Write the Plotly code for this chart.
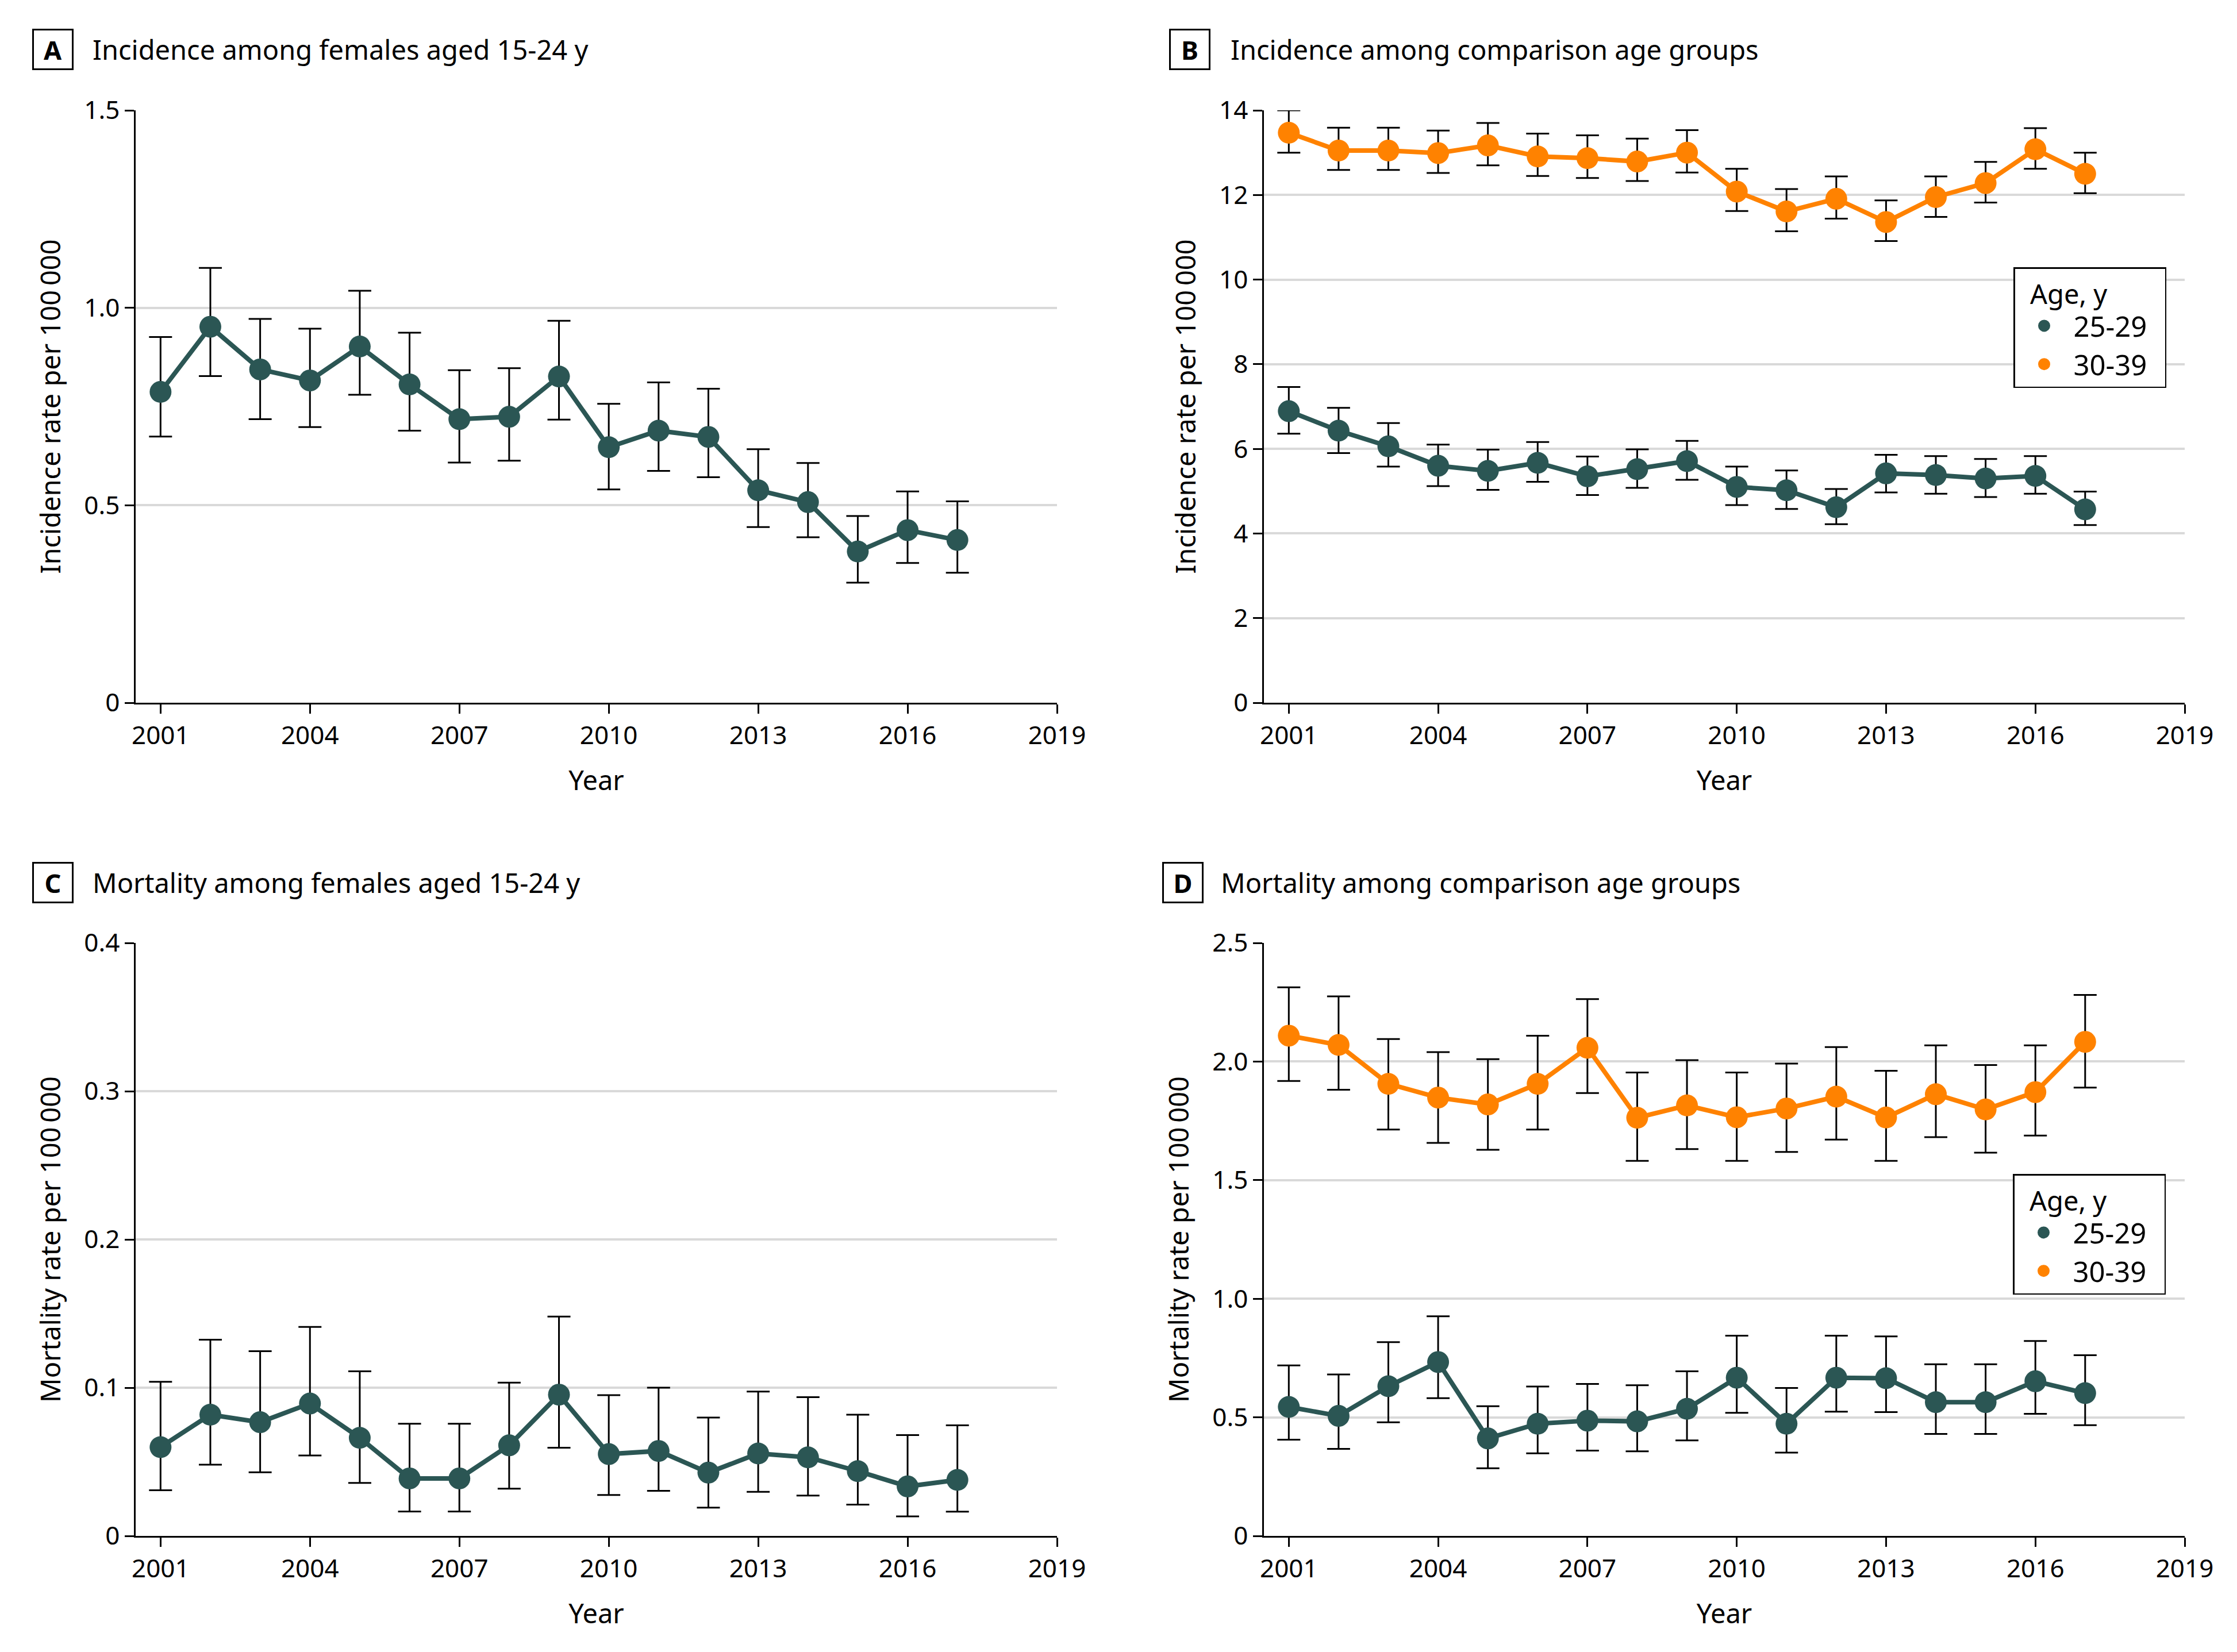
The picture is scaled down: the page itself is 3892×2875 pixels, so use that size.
import plotly.graph_objects as go

# ---------------- data ----------------
years = list(range(2001, 2018))

# Panel A: incidence, females 15-24 y
a_rate = [0.787, 0.952, 0.844, 0.816, 0.902, 0.806, 0.718, 0.724, 0.826, 0.647, 0.689, 0.673, 0.538, 0.508, 0.383, 0.437, 0.412]
a_low = [0.674, 0.827, 0.718, 0.698, 0.780, 0.689, 0.608, 0.613, 0.717, 0.540, 0.587, 0.571, 0.445, 0.419, 0.304, 0.354, 0.329]
a_high = [0.926, 1.101, 0.972, 0.947, 1.043, 0.937, 0.842, 0.847, 0.967, 0.757, 0.811, 0.795, 0.642, 0.607, 0.473, 0.535, 0.510]

# Panel B: incidence, comparison age groups
b25_rate = [6.89, 6.43, 6.06, 5.60, 5.48, 5.67, 5.35, 5.52, 5.71, 5.10, 5.02, 4.62, 5.42, 5.38, 5.30, 5.36, 4.57]
b25_low = [6.36, 5.90, 5.58, 5.12, 5.03, 5.22, 4.91, 5.08, 5.27, 4.67, 4.58, 4.22, 4.97, 4.94, 4.86, 4.94, 4.20]
b25_high = [7.46, 6.97, 6.61, 6.10, 5.98, 6.16, 5.82, 5.99, 6.19, 5.58, 5.49, 5.05, 5.86, 5.83, 5.76, 5.83, 4.99]
b30_rate = [13.47, 13.05, 13.05, 12.99, 13.17, 12.91, 12.87, 12.79, 13.00, 12.08, 11.61, 11.91, 11.36, 11.95, 12.28, 13.08, 12.50]
b30_low = [13.00, 12.59, 12.59, 12.52, 12.70, 12.45, 12.40, 12.33, 12.53, 11.62, 11.14, 11.44, 10.91, 11.48, 11.82, 12.62, 12.04]
b30_high = [14.00, 13.59, 13.59, 13.52, 13.70, 13.45, 13.41, 13.33, 13.53, 12.62, 12.14, 12.44, 11.87, 12.44, 12.78, 13.58, 13.00]

# Panel C: mortality, females 15-24 y
c_rate = [0.0599, 0.0818, 0.0767, 0.0893, 0.0662, 0.0388, 0.0388, 0.0611, 0.0953, 0.0552, 0.0573, 0.0427, 0.0556, 0.0530, 0.0437, 0.0334, 0.0378]
c_low = [0.0308, 0.0481, 0.0429, 0.0543, 0.0358, 0.0165, 0.0165, 0.0319, 0.0595, 0.0276, 0.0304, 0.0191, 0.0297, 0.0272, 0.0211, 0.0132, 0.0164]
c_high = [0.1040, 0.1324, 0.1246, 0.1410, 0.1110, 0.0757, 0.0757, 0.1034, 0.1480, 0.0950, 0.1000, 0.0798, 0.0974, 0.0936, 0.0818, 0.0680, 0.0746]

# Panel D: mortality, comparison age groups
d25_rate = [0.544, 0.506, 0.631, 0.733, 0.411, 0.473, 0.486, 0.483, 0.536, 0.667, 0.473, 0.667, 0.665, 0.564, 0.564, 0.652, 0.602]
d25_low = [0.406, 0.367, 0.479, 0.581, 0.285, 0.348, 0.360, 0.357, 0.403, 0.519, 0.351, 0.524, 0.522, 0.430, 0.430, 0.515, 0.467]
d25_high = [0.719, 0.681, 0.817, 0.926, 0.547, 0.630, 0.641, 0.635, 0.694, 0.844, 0.624, 0.844, 0.841, 0.724, 0.724, 0.822, 0.762]
d30_rate = [2.109, 2.070, 1.906, 1.848, 1.819, 1.906, 2.058, 1.763, 1.815, 1.765, 1.802, 1.852, 1.764, 1.862, 1.798, 1.871, 2.083]
d30_low = [1.918, 1.881, 1.713, 1.657, 1.628, 1.713, 1.867, 1.581, 1.631, 1.581, 1.619, 1.671, 1.581, 1.681, 1.616, 1.688, 1.890]
d30_high = [2.313, 2.275, 2.095, 2.040, 2.010, 2.109, 2.263, 1.954, 2.006, 1.954, 1.991, 2.061, 1.961, 2.068, 1.985, 2.068, 2.281]

# ticks / labels
x_ticks = [2001, 2004, 2007, 2010, 2013, 2016, 2019]
a_yticks = [0, 0.5, 1.0, 1.5]
a_ytext = ["0", "0.5", "1.0", "1.5"]
b_yticks = [0, 2, 4, 6, 8, 10, 12, 14]
b_ytext = ["0", "2", "4", "6", "8", "10", "12", "14"]
c_yticks = [0, 0.1, 0.2, 0.3, 0.4]
c_ytext = ["0", "0.1", "0.2", "0.3", "0.4"]
d_yticks = [0, 0.5, 1.0, 1.5, 2.0, 2.5]
d_ytext = ["0", "0.5", "1.0", "1.5", "2.0", "2.5"]

group_names = ["25-29", "30-39"]
legend_title = "Age, y"
panel_letters = ["A", "B", "C", "D"]
panel_titles = ["Incidence among females aged 15-24 y",
                "Incidence among comparison age groups",
                "Mortality among females aged 15-24 y",
                "Mortality among comparison age groups"]
inc_title = "Incidence rate per 100\u2009000"
mort_title = "Mortality rate per 100\u2009000"

# ---------------- style ----------------
W, H = 3892, 2875
OFF = 8  # page body margin of the html page
DARK = "#2b5654"
ORANGE = "#ff8200"
FONT = "Noto Sans"
TICK_FS = 44
TITLE_FS = 47
AXT_FS = 47
LEG_FS = 49
NB = "\u00a0"


def fx(p):
    return (p - OFF) / W


def fy(p):
    return 1 - (p - OFF) / H


fig = go.Figure()


def add_series(x, rate, low, high, color, xa, ya):
    fig.add_trace(go.Scatter(
        x=x, y=rate, mode="lines+markers", xaxis=xa, yaxis=ya,
        line=dict(color=color, width=8),
        marker=dict(color=color, size=38),
        error_y=dict(type="data", symmetric=False,
                     array=[h - v for h, v in zip(high, rate)],
                     arrayminus=[v - l for v, l in zip(rate, low)],
                     color="black", thickness=3, width=20),
        showlegend=False, hoverinfo="x+y"))


add_series(years, a_rate, a_low, a_high, DARK, "x", "y")
add_series(years, b25_rate, b25_low, b25_high, DARK, "x2", "y2")
add_series(years, b30_rate, b30_low, b30_high, ORANGE, "x2", "y2")
add_series(years, c_rate, c_low, c_high, DARK, "x3", "y3")
add_series(years, d25_rate, d25_low, d25_high, DARK, "x4", "y4")
add_series(years, d30_rate, d30_low, d30_high, ORANGE, "x4", "y4")

# legend entries (marker only)
for leg, xa, ya in [("legend", "x2", "y2"), ("legend2", "x4", "y4")]:
    for name, color in zip(group_names, [DARK, ORANGE]):
        fig.add_trace(go.Scatter(
            x=[None], y=[None], mode="markers", xaxis=xa, yaxis=ya,
            marker=dict(color=color, size=16, line=dict(color=color, width=5)),
            name=name + NB * 2, legend=leg, showlegend=True))

left_dom = [fx(236), fx(1839)]
right_dom = [fx(2199), fx(3801)]
top_dom = [fy(1223), fy(192)]
bot_dom = [fy(2673), fy(1641)]

xcommon = dict(range=[2000.5, 2019], tickvals=x_ticks, showgrid=False, zeroline=False,
               showline=True, linecolor="black", linewidth=3,
               ticks="outside", ticklen=16, tickwidth=2.5, tickcolor="black",
               tickfont=dict(size=TICK_FS, color="black"),
               title=dict(text="Year", font=dict(size=AXT_FS, color="black"), standoff=36),
               automargin=False, fixedrange=True)
ycommon = dict(showgrid=True, gridcolor="#d9d9d9", gridwidth=4, zeroline=False,
               showline=True, linecolor="black", linewidth=2.5,
               ticks="outside", ticklen=16, tickwidth=2.5, tickcolor="black",
               tickfont=dict(size=TICK_FS, color="black"),
               automargin=False, fixedrange=True)

fig.update_layout(
    xaxis=dict(domain=left_dom, anchor="y", **xcommon),
    xaxis2=dict(domain=right_dom, anchor="y2", **xcommon),
    xaxis3=dict(domain=left_dom, anchor="y3", **xcommon),
    xaxis4=dict(domain=right_dom, anchor="y4", **xcommon),
    yaxis=dict(domain=top_dom, anchor="x", range=[0, 1.5], tickvals=a_yticks, ticktext=a_ytext,
               title=dict(text=inc_title, font=dict(size=AXT_FS, color="black"), standoff=26), **ycommon),
    yaxis2=dict(domain=top_dom, anchor="x2", range=[0, 14], tickvals=b_yticks, ticktext=b_ytext,
                title=dict(text=inc_title, font=dict(size=AXT_FS, color="black"), standoff=26), **ycommon),
    yaxis3=dict(domain=bot_dom, anchor="x3", range=[0, 0.4], tickvals=c_yticks, ticktext=c_ytext,
                title=dict(text=mort_title, font=dict(size=AXT_FS, color="black"), standoff=26), **ycommon),
    yaxis4=dict(domain=bot_dom, anchor="x4", range=[0, 2.5], tickvals=d_yticks, ticktext=d_ytext,
                title=dict(text=mort_title, font=dict(size=AXT_FS, color="black"), standoff=26), **ycommon),
)

legcommon = dict(bgcolor="white", bordercolor="black", borderwidth=2.5,
                 font=dict(size=LEG_FS, color="black", family=FONT),
                 title=dict(text=NB * 2 + legend_title, font=dict(size=47, color="black")),
                 xanchor="left", yanchor="top", itemwidth=92, tracegroupgap=0)
fig.update_layout(
    legend=dict(x=fx(3503), y=fy(465), **legcommon),
    legend2=dict(x=fx(3502), y=fy(2043), **legcommon),
)

# panel labels and titles
box_pos = [(92, 86.5), (2070, 86.5), (92, 1536), (2057.5, 1536)]
title_x = [159, 2139, 159, 2122]
annotations = []
for (bx, by), tx, letter, title in zip(box_pos, title_x, panel_letters, panel_titles):
    annotations.append(dict(
        text="<b>" + letter + "</b>", x=fx(bx), y=fy(by), xref="paper", yref="paper",
        xanchor="center", yanchor="middle", showarrow=False,
        font=dict(size=45, color="black", family=FONT),
        width=66, height=66, borderpad=0, bordercolor="black", borderwidth=3))
    annotations.append(dict(
        text=title, x=fx(tx), y=fy(by), xref="paper", yref="paper",
        xanchor="left", yanchor="middle", showarrow=False,
        font=dict(size=TITLE_FS, color="black", family=FONT)))

fig.update_layout(
    annotations=annotations,
    width=W, height=H, autosize=False,
    margin=dict(l=0, r=0, t=0, b=0),
    paper_bgcolor="white", plot_bgcolor="white",
    font=dict(family=FONT, color="black"),
)

fig.write_html("out.html")
